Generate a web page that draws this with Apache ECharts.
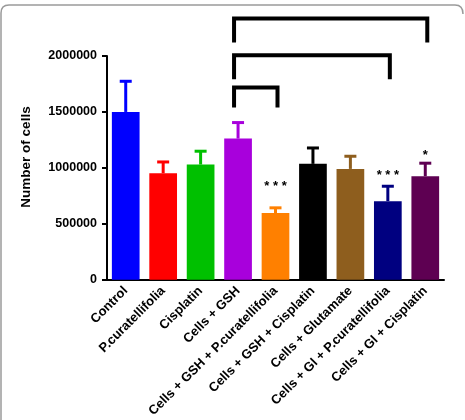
<!DOCTYPE html>
<html>
<head>
<meta charset="utf-8">
<script src="https://cdn.jsdelivr.net/npm/echarts@6/dist/echarts.min.js"></script>
<style>
  html, body { margin: 0; padding: 0; background: #fff; }
  #chart { width: 465px; height: 420px; }
</style>
</head>
<body>
<div id="chart"></div>
<script>
// data
var groups = ['Control', 'P.curatellifolia', 'Cisplatin', 'Cells + GSH',
  'Cells + GSH + P.curatellifolia', 'Cells + GSH + Cisplatin', 'Cells + Glutamate',
  'Cells + Gl + P.curatellifolia', 'Cells + Gl + Cisplatin'];
var cellCount = [1500000, 952000, 1030000, 1262000, 596000, 1036000, 991000, 703000, 926000];
var errTop = [1783000, 1062000, 1158000, 1414000, 652000, 1187000, 1113000, 845000, 1051000];
var barColors = ['#0000ff', '#ff0000', '#00c000', '#a800dc', '#ff8000', '#000000', '#8e5e1e', '#000080', '#5e0052'];
var sigText = ['', '', '', '', '* * *', '', '', '* * *', '*'];
var sigLevel = [0, 0, 0, 0, 830000, 0, 0, 935000, 1115000];
var yTicks = [0, 500000, 1000000, 1500000, 2000000];
// brackets: [from index, to index, top value, leg end value]
var brackets = [
  [3, 8, 2336000, 2120000],
  [3, 7, 2006000, 1792000],
  [3, 4, 1718000, 1539000]
];

var chart = echarts.init(document.getElementById('chart'));
var fontFam = '"Liberation Sans", Arial, sans-serif';
var frameStyle = { stroke: '#9a9a9a', lineWidth: 1.5, fill: null };

function renderErr(params, api) {
  var i = api.value(0);
  var base = api.coord([i, api.value(1)]);
  var top = api.coord([i, api.value(2)]);
  var col = barColors[i];
  var kids = [
    { type: 'line', shape: { x1: base[0], y1: base[1], x2: top[0], y2: top[1] + 1 }, style: { stroke: col, lineWidth: 3 } },
    { type: 'line', shape: { x1: top[0] - 6, y1: top[1] + 1, x2: top[0] + 6, y2: top[1] + 1 }, style: { stroke: col, lineWidth: 3 } }
  ];
  if (sigText[i]) {
    var p = api.coord([i, sigLevel[i]]);
    kids.push({ type: 'text', x: p[0], y: p[1], style: { text: sigText[i], fill: '#000', font: 'bold 13px ' + fontFam, align: 'center', verticalAlign: 'middle' } });
  }
  return { type: 'group', children: kids };
}

function renderBracket(params, api) {
  var a = api.coord([api.value(0), api.value(2)]);
  var b = api.coord([api.value(1), api.value(2)]);
  var legA = api.coord([api.value(0), api.value(3)]);
  var legB = api.coord([api.value(1), api.value(3)]);
  return {
    type: 'polyline',
    shape: { points: [[a[0] - 4, legA[1]], [a[0] - 4, a[1]], [b[0] + 2, b[1]], [b[0] + 2, legB[1]]] },
    style: { stroke: '#000', lineWidth: 4, fill: null, lineJoin: 'miter' }
  };
}

chart.setOption({
  backgroundColor: '#fff',
  animation: false,
  textStyle: { fontFamily: fontFam },
  grid: { left: 107, right: 21, top: 56, bottom: 139.5 },
  graphic: [
    { type: 'line', shape: { x1: 1, y1: 13, x2: 1, y2: 420 }, style: frameStyle },
    { type: 'bezierCurve', shape: { x1: 1, y1: 13, cpx1: 1, cpy1: 5, x2: 9, y2: 5 }, style: frameStyle },
    { type: 'line', shape: { x1: 9, y1: 5, x2: 455, y2: 5 }, style: frameStyle },
    { type: 'bezierCurve', shape: { x1: 455, y1: 5, cpx1: 463, cpy1: 5, x2: 463, y2: 14 }, style: frameStyle },
    {
      type: 'text', x: 26, y: 157, rotation: Math.PI / 2,
      style: { text: 'Number of cells', font: 'bold 13.5px ' + fontFam, fill: '#000', align: 'center', verticalAlign: 'middle' }
    }
  ],
  xAxis: {
    type: 'category',
    data: groups,
    axisLine: { lineStyle: { color: '#000', width: 2 } },
    axisTick: { alignWithLabel: true, length: 5, lineStyle: { color: '#000', width: 2 } },
    axisLabel: { rotate: 45, interval: 0, margin: 9, color: '#000', fontWeight: 'bold', fontSize: 13, fontFamily: fontFam }
  },
  yAxis: {
    type: 'value',
    min: yTicks[0],
    max: yTicks[yTicks.length - 1],
    interval: yTicks[1] - yTicks[0],
    splitLine: { show: false },
    axisLine: { show: true, lineStyle: { color: '#000', width: 2 } },
    axisTick: { show: true, length: 5, lineStyle: { color: '#000', width: 2 } },
    axisLabel: { margin: 10, color: '#000', fontWeight: 'bold', fontSize: 12.5, fontFamily: fontFam, formatter: function (v) { return String(v); } }
  },
  series: [
    {
      type: 'bar',
      barCategoryGap: '26%',
      data: cellCount.map(function (v, i) { return { value: v, itemStyle: { color: barColors[i] } }; }),
      z: 2
    },
    {
      type: 'custom',
      renderItem: renderErr,
      clip: false,
      encode: { x: 0, y: [1, 2] },
      data: cellCount.map(function (v, i) { return [i, v, errTop[i]]; }),
      z: 3
    },
    {
      type: 'custom',
      renderItem: renderBracket,
      clip: false,
      encode: { x: 0, y: 2 },
      data: brackets,
      z: 4
    }
  ]
});
</script>
</body>
</html>
